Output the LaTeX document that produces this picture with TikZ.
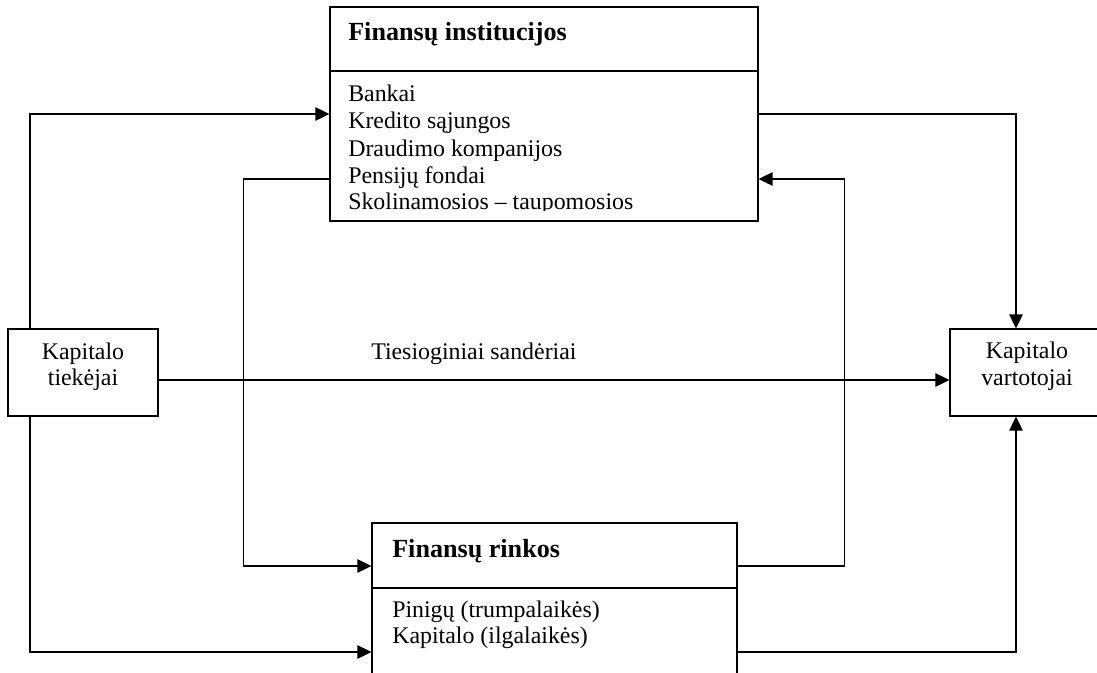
\documentclass[tikz,border=0pt]{standalone}
\usepackage{fontspec}
\setmainfont{Liberation Serif}
\usetikzlibrary{arrows.meta,fit}
\begin{document}
\begin{tikzpicture}[x=0.75pt,y=-0.75pt,
  box/.style={draw, line width=0.8pt, rectangle, inner sep=0pt},
  conn/.style={draw, line width=1.05pt, -{Triangle[length=10.5pt,width=10pt]}},
  body/.style={font=\fontsize{17.9}{20.6}\selectfont, inner sep=0pt},
  head/.style={font=\fontsize{19.6}{23}\selectfont\bfseries, inner sep=0pt}]
\useasboundingbox (0,0) rectangle (1097,672);

% boxes
\node[box, fit={(330,7) (758,221)}] (fi) {};
\node[box, fit={(372,523) (737,700)}] (fr) {};
\node[box, fit={(8,329) (158,416)}] (kt) {};
\node[box, fit={(950,329) (1104,416)}] (kv) {};
\draw[line width=0.8pt] (fi.west |- 0,71) -- (fi.east |- 0,71);
\draw[line width=0.8pt] (fr.west |- 0,588) -- (fr.east |- 0,588);

% texts of the financial institutions box
\node[head, anchor=base west] (fiT) at (348,40) {Finansų institucijos};
\node[body, anchor=base west] (fi1) at (348,101) {Bankai};
\node[body, anchor=base west] (fi2) at (348,128) {Kredito sąjungos};
\node[body, anchor=base west] (fi3) at (348,156) {Draudimo kompanijos};
\node[body, anchor=base west] (fi4) at (348,183) {Pensijų fondai};
\begin{scope}
  \clip (330,7) rectangle (758,210.5);
  \node[body, anchor=base west] (fi5) at (348,209) {Skolinamosios – taupomosios};
\end{scope}

% texts of the financial markets box
\node[head, anchor=base west] (frT) at (392,557) {Finansų rinkos};
\node[body, anchor=base west] (fr1) at (392,617) {Pinigų (trumpalaikės)};
\node[body, anchor=base west] (fr2) at (392,643) {Kapitalo (ilgalaikės)};

% suppliers and users of capital
\node[body, anchor=base] (kt1) at (83,359) {Kapitalo};
\node[body, anchor=base] (kt2) at (83,385) {tiekėjai};
\node[body, anchor=base] (kv1) at (1027,358) {Kapitalo};
\node[body, anchor=base] (kv2) at (1027,385) {vartotojai};

% connectors
\draw[conn] (30,0 |- kt.north) |- (fi.west |- 0,114);
\draw[conn] (fi.west |- 0,179) -- ++(-86,0) |- (fr.west |- 0,566);
\draw[conn] (fi.east |- 0,114) -| (kv.north -| 1016,0);
\draw[conn] (fr.east |- 0,566) -- ++(107,0) |- (fi.east |- 0,179);
\draw[conn] (fr.east |- 0,652) -| (kv.south -| 1016,0);
\draw[conn] (30,0 |- kt.south) |- (fr.west |- 0,652);
\draw[conn] (kt.east |- 0,380) -- (kv.west |- 0,380);
\node[body, anchor=base west] (ts) at (371,359) {Tiesioginiai sandėriai};
\end{tikzpicture}
\end{document}
